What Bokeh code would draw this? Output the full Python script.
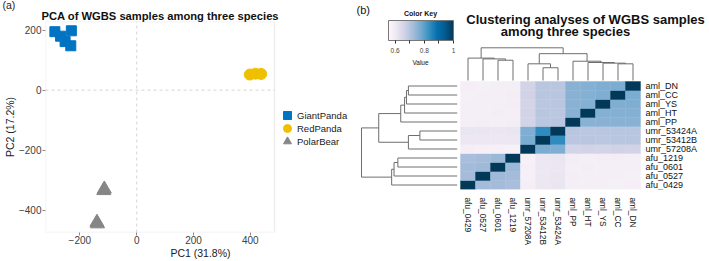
import numpy as np
from bokeh.plotting import figure
from bokeh.models import (Legend, LegendItem, Label, FixedTicker, ColorBar, Title, BoxAnnotation,
                          LinearColorMapper, ColumnDataSource, Range1d)
from bokeh.layouts import row
from bokeh.core.properties import value
from bokeh.transform import linear_cmap
from bokeh.embed import file_html
from bokeh.resources import INLINE

FONT = "Liberation Sans"

# ---------------- PCA data (panel a) ----------------
gp_pc1 = [-288, -268, -252, -230, -232]
gp_pc2 = [195, 180, 162, 198, 148]
rp_pc1 = [398, 418, 438]
rp_pc2 = [52, 55, 54]
pb_pc1 = [-116, -114, -140, -138]
pb_pc2 = [-335, -330, -441, -446]
pca_xlim = [-321, 485]
pca_ylim = [-475, 229]
pca_xticks = [-200, 0, 200, 400]
pca_yticks = [-400, -200, 0, 200]
species = ["GiantPanda", "RedPanda", "PolarBear"]

# ---------------- Clustering data (panel b) ----------------
samples = ["afu_0429", "afu_0527", "afu_0601", "afu_1219",
           "umr_57208A", "umr_53412B", "umr_53424A",
           "aml_PP", "aml_HT", "aml_YS", "aml_CC", "aml_DN"]
corr = [
    [1.000, 0.725, 0.725, 0.720, 0.585, 0.610, 0.615, 0.588, 0.585, 0.588, 0.583, 0.585],
    [0.725, 1.000, 0.730, 0.725, 0.582, 0.612, 0.615, 0.589, 0.587, 0.585, 0.587, 0.583],
    [0.725, 0.730, 1.000, 0.735, 0.582, 0.610, 0.613, 0.587, 0.589, 0.587, 0.585, 0.587],
    [0.720, 0.725, 0.735, 1.000, 0.578, 0.612, 0.615, 0.591, 0.588, 0.589, 0.589, 0.588],
    [0.585, 0.582, 0.582, 0.578, 1.000, 0.770, 0.765, 0.660, 0.662, 0.660, 0.664, 0.662],
    [0.610, 0.612, 0.610, 0.612, 0.770, 1.000, 0.840, 0.695, 0.697, 0.695, 0.698, 0.696],
    [0.615, 0.615, 0.613, 0.615, 0.765, 0.840, 1.000, 0.696, 0.695, 0.697, 0.696, 0.698],
    [0.588, 0.589, 0.587, 0.591, 0.660, 0.695, 0.696, 1.000, 0.755, 0.755, 0.755, 0.755],
    [0.585, 0.587, 0.589, 0.588, 0.662, 0.697, 0.695, 0.755, 1.000, 0.760, 0.760, 0.760],
    [0.588, 0.585, 0.587, 0.589, 0.660, 0.695, 0.697, 0.755, 0.760, 1.000, 0.765, 0.765],
    [0.583, 0.587, 0.585, 0.589, 0.664, 0.698, 0.696, 0.755, 0.760, 0.765, 1.000, 0.770],
    [0.585, 0.583, 0.587, 0.588, 0.662, 0.696, 0.698, 0.755, 0.760, 0.765, 0.770, 1.000],
]
# hierarchical merges (cluster a, cluster b, relative height); new ids start at 12
merges = [(5, 6, 0.39), (10, 11, 0.51), (4, 12, 0.51), (9, 13, 0.53), (8, 15, 0.55),
          (7, 16, 0.59), (2, 3, 0.62), (1, 18, 0.66), (0, 19, 0.685), (14, 17, 0.82),
          (20, 21, 1.00)]
key_low, key_high = 0.555, 1.0
key_ticks = [0.6, 0.7, 0.8, 0.9, 1.0]

# PuBu palette interpolated
pubu9 = ['#fff7fb', '#ece7f2', '#d0d1e6', '#a6bddb', '#74a9cf', '#3690c0', '#0570b0', '#045a8d', '#023858']
def _rgb(h):
    return np.array([int(h[i:i + 2], 16) for i in (1, 3, 5)], float)
anchors = np.array([_rgb(c) for c in pubu9])
palette = []
for t in np.linspace(0, 1, 256):
    f = t * (len(pubu9) - 1)
    i = min(int(f), len(pubu9) - 2)
    c = anchors[i] + (anchors[i + 1] - anchors[i]) * (f - i)
    palette.append('#%02x%02x%02x' % tuple(int(round(v)) for v in c))

# ================= Panel (a) =================
A_LEFT, A_BOX_W, A_W = 45, 229, 355
units_per_px = (pca_xlim[1] - pca_xlim[0]) / A_BOX_W
pa = figure(width=A_W, height=261,
            x_range=Range1d(pca_xlim[0], pca_xlim[0] + (A_W - A_LEFT) * units_per_px),
            y_range=Range1d(*pca_ylim),
            output_backend="svg", toolbar_location=None, frame_align=False,
            min_border_left=A_LEFT, min_border_right=0, min_border_top=0, min_border_bottom=20)
# outer title: panel tag
pa.title.text = "(a)"
pa.title.align = "left"
pa.title.offset = -43
pa.title.text_font = FONT
pa.title.text_font_size = "10.5px"
pa.title.text_font_style = "normal"
pa.title.text_color = "#222222"
pa.title.standoff = -7
# inner title
pa.add_layout(Title(text="PCA of WGBS samples among three species", align="left", offset=-4,
                    standoff=0, text_font=FONT, text_font_size="11.2px", text_font_style="bold",
                    text_color="#111111"), "above")
pa.grid.visible = False
pa.outline_line_color = None
pa.add_layout(BoxAnnotation(left=pca_xlim[0], right=pca_xlim[1], bottom=pca_ylim[0], top=pca_ylim[1],
                            fill_alpha=0, line_color="#c8c8c8", line_width=1.5))

for ax, ticks in ((pa.xaxis[0], pca_xticks), (pa.yaxis[0], pca_yticks)):
    ax.ticker = FixedTicker(ticks=ticks)
    ax.major_label_overrides = {t: (str(t).replace("-", "\u2212")) for t in ticks}
    ax.axis_line_color = None
    ax.major_tick_line_color = "#8a8a8a"
    ax.major_tick_out = 3
    ax.major_tick_in = 0
    ax.minor_tick_line_color = None
    ax.minor_tick_out = 0
    ax.major_label_text_font = FONT
    ax.major_label_text_font_size = "10px"
    ax.major_label_text_color = "#404040"
    ax.major_label_standoff = 1
    ax.axis_label_text_font = FONT
    ax.axis_label_text_font_size = "10.5px"
    ax.axis_label_text_font_style = "normal"
    ax.axis_label_text_color = "#1a1a1a"
    ax.axis_label_standoff = 0
pa.xaxis.major_label_standoff = 0
pa.xaxis.axis_label_standoff = 0
pa.xaxis.axis_label = "PC1 (31.8%)"
pa.yaxis.axis_label = "PC2 (17.2%)"

pa.segment(x0=[pca_xlim[0]], y0=[0], x1=[pca_xlim[1]], y1=[0], line_color="#d5d5d5", line_dash="3 3", line_width=1)
pa.segment(x0=[0], y0=[pca_ylim[0]], x1=[0], y1=[pca_ylim[1]], line_color="#d5d5d5", line_dash="3 3", line_width=1)

r1 = pa.scatter(gp_pc1, gp_pc2, marker="square", size=10, color="#0073C2")
r2 = pa.scatter(rp_pc1, rp_pc2, marker="circle", size=11, color="#EFC000")
r3 = pa.scatter(pb_pc1, pb_pc2, marker="triangle", size=14, color="#868686")
# one legend per entry so that rows can sit closer than the key size
for k, (name, rend) in enumerate(zip(species, (r1, r2, r3))):
    pa.add_layout(Legend(items=[LegendItem(label=name, renderers=[rend])],
                         location=(232, 107 - 13 * k), border_line_color=None,
                         background_fill_alpha=0, label_text_font=FONT,
                         label_text_font_size="9.5px", label_text_color="#1a1a1a",
                         glyph_width=20, glyph_height=20, padding=2, margin=0,
                         label_standoff=-3))

# ================= Panel (b) =================
n = len(samples)
xs_c, ys_c, vs = [], [], []
for i in range(n):
    for j in range(n):
        xs_c.append(j)
        ys_c.append(i)
        vs.append(corr[i][j])
src = ColumnDataSource(dict(x=xs_c, y=ys_c, v=vs))

B_W, B_FRAME_BOTTOM = 354, 189
HM_LEFT, CELL_W, CELL_H = 460 - 355, 15, 9
pb = figure(width=B_W, height=261,
            x_range=Range1d(-0.5 - HM_LEFT / CELL_W, -0.5 + (B_W - HM_LEFT) / CELL_W),
            y_range=Range1d(-0.5, -0.5 + B_FRAME_BOTTOM / CELL_H),
            output_backend="svg", toolbar_location=None, frame_align=False, y_axis_location=None,
            min_border_left=0, min_border_right=0, min_border_top=0,
            min_border_bottom=261 - B_FRAME_BOTTOM)
pb.grid.visible = False
pb.outline_line_color = None
cmap = linear_cmap("v", palette, key_low, key_high)
pb.rect("x", "y", 1, 1, source=src, fill_color=cmap, line_color=cmap, line_width=0.4)

ax = pb.xaxis[0]
ax.ticker = FixedTicker(ticks=list(range(n)))
ax.major_label_overrides = {k: s for k, s in enumerate(samples)}
ax.axis_line_color = None
ax.major_tick_line_color = None
ax.major_tick_out = 0
ax.major_tick_in = 0
ax.minor_tick_line_color = None
ax.minor_tick_out = 0
ax.minor_tick_in = 0
ax.axis_label_standoff = 0
ax.major_label_text_font = FONT
ax.major_label_text_font_size = "8.3px"
ax.major_label_text_color = "#111111"
ax.major_label_orientation = "vertical"
ax.major_label_standoff = 8

# row labels at the right of the heatmap
pb.text(x=[n - 0.5 + 5 / CELL_W] * n, y=list(range(n)), text=samples,
        text_font=value(FONT), text_font_size="9px", text_align="left",
        text_baseline="middle", text_color="#111111")

# dendrogram coordinates computed from the merge table
pos = {i: float(i) for i in range(n)}
hgt = {i: 0.0 for i in range(n)}
segs_p, segs_h = [], []
for k, (a, b, h) in enumerate(merges):
    segs_p.append([pos[a], pos[a], pos[b], pos[b]])
    segs_h.append([hgt[a], h, h, hgt[b]])
    pos[n + k] = (pos[a] + pos[b]) / 2
    hgt[n + k] = h
col_base, col_scale = n - 0.5 + 1 / CELL_H, 32.7 / CELL_H
row_base, row_scale = -0.5 - 3.3 / CELL_W, 95.7 / CELL_W
pb.multi_line([p for p in segs_p], [[col_base + v * col_scale for v in hs] for hs in segs_h],
              line_color="#6e6e6e", line_width=1)
pb.multi_line([[row_base - v * row_scale for v in hs] for hs in segs_h], [p for p in segs_p],
              line_color="#6e6e6e", line_width=1)

mapper = LinearColorMapper(palette=palette, low=key_low, high=key_high)
cb = ColorBar(color_mapper=mapper, orientation="horizontal", width=65, height=20,
              location=(33, 134), padding=0, margin=0,
              ticker=FixedTicker(ticks=key_ticks),
              major_label_overrides={0.7: "", 0.9: "", 1.0: "1"},
              major_label_text_font=FONT, major_label_text_font_size="6.5px",
              major_tick_out=3, major_tick_in=0, major_tick_line_color="#333333",
              bar_line_color="#777777", background_fill_alpha=0, border_line_color=None,
              label_standoff=4)
pb.add_layout(cb)

def lab(px, py, text, size, bold=False, align="center"):
    pb.add_layout(Label(x=px - 355, y=B_FRAME_BOTTOM - py, x_units="screen", y_units="screen",
                        text=text, text_font=FONT, text_font_size=size, text_align=align,
                        text_baseline="middle", text_color="#111111",
                        text_font_style="bold" if bold else "normal"))

lab(356, 9, "(b)", "11px", align="left")
lab(420, 12.5, "Color Key", "7px", bold=True)
lab(420, 62, "Value", "6.5px")
lab(585, 18.5, "Clustering analyses of WGBS samples", "13px", bold=True)
lab(565, 31, "among three species", "13px", bold=True)

layout = row(pa, pb, spacing=0)
open("out.html", "w").write(file_html(layout, INLINE))
